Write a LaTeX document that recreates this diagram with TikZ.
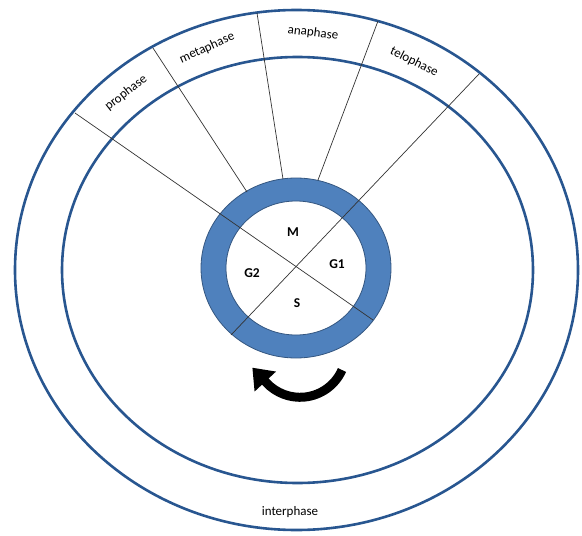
\documentclass[tikz,border=0pt]{standalone}
\usepackage{fontspec}
\setmainfont{Carlito}
\usepackage{tikz}
\usetikzlibrary{arrows.meta}
\definecolor{ringblue}{RGB}{79,129,189}
\definecolor{ringedge}{RGB}{52,86,128}
\definecolor{ovalblue}{RGB}{40,86,144}
\tikzset{
  oval/.style={draw=ovalblue, line width=2.6pt},
  spoke/.style={draw=black!80, line width=0.7pt},
  phaselabel/.style={font=\fontsize{13}{15}\selectfont, inner sep=0pt},
  stagelabel/.style={font=\fontsize{13.5}{15}\selectfont\bfseries, inner sep=0pt}
}
\begin{document}
\begin{tikzpicture}[x=1pt,y=-1pt]
            \useasboundingbox (0,0) rectangle (582,536);
            \draw[oval] (296.5,270) ellipse [x radius=281.5, y radius=260];
            \draw[oval] (297.5,270) ellipse [x radius=235.5, y radius=213];
            \fill[ringblue, draw=ringedge, line width=0.8pt, even odd rule]
                (296,268) ellipse [x radius=95, y radius=90]
                (296,268) ellipse [x radius=70, y radius=67];
            \coordinate (p1) at (75,113);
            \coordinate (q1) at (373,320);
            \coordinate (p2) at (153,48);
            \coordinate (q2) at (247,192);
            \coordinate (p3) at (257,13);
            \coordinate (q3) at (283,179);
            \coordinate (p4) at (378,21);
            \coordinate (q4) at (318,180);
            \coordinate (p5) at (479,74);
            \coordinate (q5) at (231,335);
            \draw[spoke] (p1) -- (q1);
            \draw[spoke] (p2) -- (q2);
            \draw[spoke] (p3) -- (q3);
            \draw[spoke] (p4) -- (q4);
            \draw[spoke] (p5) -- (q5);
            \node[phaselabel, rotate=38](pro) at (126,93) {prophase};
            \node[phaselabel, rotate=24](meta) at (207,48) {metaphase};
            \node[phaselabel, rotate=-7](ana) at (313,33) {anaphase};
            \node[phaselabel, rotate=-27](telo) at (414,62) {telophase};
            \node[phaselabel](inter) at (290,512) {interphase};
            \node[stagelabel](m) at (293,232) {M};
            \node[stagelabel](g1) at (337,264) {G1};
            \node[stagelabel](g2) at (252,273) {G2};
            \node[stagelabel](s) at (297,303) {S};
            \coordinate (turn) at (342,370);
            \draw[line width=9pt, -{Triangle[length=19pt, width=28pt]}]
                (turn) arc [start angle=24, end angle=137, radius=46] -- ++(-14,-15);
        \end{tikzpicture}
\end{document}
